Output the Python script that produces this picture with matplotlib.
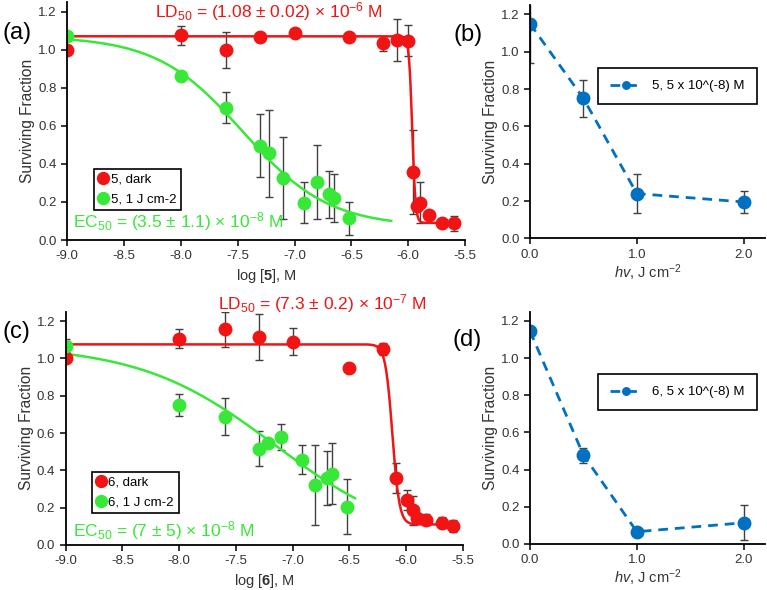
import numpy as np
import matplotlib.pyplot as plt

plt.rcParams['font.family'] = ['Liberation Sans', 'DejaVu Sans']
plt.rcParams['mathtext.fontset'] = 'custom'
plt.rcParams['mathtext.rm'] = 'Liberation Sans'
plt.rcParams['mathtext.it'] = 'Liberation Sans:italic'
plt.rcParams['mathtext.bf'] = 'Liberation Sans:bold'

RED = '#F01414'
GREEN = '#38E838'
BLUE = '#0070C0'
ERR = '#404040'
TXT = '#333333'

# ---- panel (a): compound 5
a_dark_x = [-9.0, -8.0, -7.6, -7.3, -7.0, -6.52, -6.22, -6.1, -6.0, -5.96, -5.92, -5.9, -5.82, -5.7, -5.6]
a_dark_y = [1.00, 1.075, 1.00, 1.064, 1.087, 1.064, 1.034, 1.052, 1.047, 0.356, 0.18, 0.197, 0.13, 0.087, 0.087]
a_dark_e = [0, 0.05, 0.095, 0, 0, 0, 0.04, 0.11, 0.08, 0.22, 0, 0.11, 0, 0, 0.04]
a_lit_x = [-9.0, -8.0, -7.6, -7.3, -7.22, -7.1, -6.92, -6.8, -6.7, -6.65, -6.52]
a_lit_y = [1.07, 0.861, 0.695, 0.495, 0.455, 0.325, 0.197, 0.304, 0.24, 0.22, 0.113]
a_lit_e = [0, 0, 0.08, 0.165, 0.23, 0.215, 0.11, 0.195, 0.125, 0.125, 0.085]
# fit parameters: top, bottom, log(LD50/EC50), hill slope, x range
a_dark_fit = (1.07, 0.09, -5.965, 30, -9.0, -5.6)
a_lit_fit = (1.07, 0.07, -7.456, 1.15, -9.0, -6.15)

# ---- panel (c): compound 6
c_dark_x = [-9.0, -8.0, -7.6, -7.3, -7.0, -6.5, -6.2, -6.09, -5.99, -5.94, -5.9, -5.82, -5.68, -5.59]
c_dark_y = [1.00, 1.105, 1.155, 1.114, 1.09, 0.948, 1.05, 0.359, 0.242, 0.185, 0.147, 0.135, 0.12, 0.102]
c_dark_e = [0, 0.05, 0.095, 0.125, 0.07, 0, 0.03, 0.08, 0.055, 0.08, 0, 0.03, 0.03, 0.03]
c_lit_x = [-9.0, -8.0, -7.6, -7.3, -7.22, -7.1, -6.92, -6.8, -6.7, -6.65, -6.52]
c_lit_y = [1.068, 0.749, 0.688, 0.516, 0.544, 0.578, 0.458, 0.323, 0.359, 0.383, 0.206]
c_lit_e = [0.035, 0.06, 0.098, 0.095, 0, 0.068, 0.077, 0.215, 0.145, 0.165, 0.145]
c_dark_fit = (1.075, 0.11, -6.12, 14, -9.0, -5.6)
c_lit_fit = (1.07, 0.0, -7.155, 0.73, -9.0, -6.45)

# ---- panels (b), (d): light dose
dose = [0.0, 0.5, 1.0, 2.0]
b_y = [1.15, 0.75, 0.24, 0.195]
b_e = [0.21, 0.10, 0.105, 0.06]
d_y = [1.145, 0.478, 0.066, 0.114]
d_e = [0.0, 0.04, 0.0, 0.095]


def hill(p):
    top, bot, logc, h, x0, x1 = p
    x = np.linspace(x0, x1, 600)
    return x, bot + (top - bot) / (1 + 10 ** ((x - logc) * h))


def style(ax):
    for s in ['top', 'right']:
        ax.spines[s].set_visible(False)
    for s in ['left', 'bottom']:
        ax.spines[s].set_linewidth(1.3)
        ax.spines[s].set_zorder(5)
    ax.tick_params(direction='out', length=4, width=1.1, labelsize=9.5, labelcolor=TXT)
    ax.set_ylim(0, 1.25)
    ax.set_yticks(np.arange(0, 1.21, 0.2))
    ax.set_yticklabels([f'{v:.1f}' for v in np.arange(0, 1.21, 0.2)])
    ax.set_ylabel('Surviving Fraction', fontsize=11.2, color=TXT, labelpad=2)


def dose_panel(ax, x, y, e, label):
    ax.errorbar(x, y, yerr=e, fmt='none', ecolor=ERR, elinewidth=1, capsize=3, zorder=2)
    ax.plot(x, y, color=BLUE, ls=(0, (3.5, 2.5)), lw=2, marker='o', ms=9, zorder=3, label=label)
    style(ax)
    ax.set_xlim(0, 2.2)
    ax.set_xticks([0, 1, 2])
    ax.set_xticklabels(['0.0', '1.0', '2.0'])
    ax.set_xlabel('$hv$, J cm$^{-2}$', fontsize=10.5, color=TXT, labelpad=1)
    leg = ax.legend(loc='lower left', bbox_to_anchor=(0.29, 0.575), fontsize=9.5, frameon=True,
                    fancybox=False, framealpha=1, edgecolor='black', handlelength=2.4,
                    borderpad=0.9, borderaxespad=0, markerscale=0.6)
    leg.get_frame().set_linewidth(1.2)


def dose_response(ax, dx, dy, de, dfit, lx, ly, le, lfit, num):
    ax.errorbar(dx, dy, yerr=de, fmt='none', ecolor=ERR, elinewidth=1, capsize=3, zorder=2)
    ax.errorbar(lx, ly, yerr=le, fmt='none', ecolor=ERR, elinewidth=1, capsize=3, zorder=2)
    ax.plot(*hill(dfit), color=RED, lw=1.8, zorder=3)
    ax.plot(*hill(lfit), color=GREEN, lw=1.8, zorder=3)
    ax.plot(dx, dy, 'o', color=RED, ms=9, zorder=4, label=f'{num}, dark')
    ax.plot(lx, ly, 'o', color=GREEN, ms=9, zorder=4, label=f'{num}, 1 J cm-2')
    style(ax)
    ax.set_xlim(-9.0, -5.5)
    ax.set_xticks(np.arange(-9.0, -5.49, 0.5))
    ax.set_xticklabels([f'{v:.1f}' for v in np.arange(-9.0, -5.49, 0.5)])
    ax.set_xlabel(r'log [$\mathbf{' + num + r'}$], M', fontsize=10.5, color=TXT, labelpad=3)


fig = plt.figure(figsize=(7.67, 5.9), dpi=100)
ax_a = fig.add_axes([0.0874, 0.5932, 0.519, 0.4034])
ax_b = fig.add_axes([0.691, 0.596, 0.3064, 0.3954])
ax_c = fig.add_axes([0.0857, 0.0763, 0.5176, 0.3954])
ax_d = fig.add_axes([0.691, 0.078, 0.3064, 0.394])

dose_response(ax_a, a_dark_x, a_dark_y, a_dark_e, a_dark_fit, a_lit_x, a_lit_y, a_lit_e, a_lit_fit, '5')
dose_response(ax_c, c_dark_x, c_dark_y, c_dark_e, c_dark_fit, c_lit_x, c_lit_y, c_lit_e, c_lit_fit, '6')

for ax, anchor in [(ax_a, (0.068, 0.126)), (ax_c, (0.066, 0.137))]:
    leg = ax.legend(loc='lower left', bbox_to_anchor=anchor, fontsize=9.5, frameon=True,
                    fancybox=False, framealpha=1, edgecolor='black', handlelength=0.6,
                    handletextpad=0.3, borderpad=0.35, labelspacing=0.55, borderaxespad=0,
                    markerscale=0.95)
    leg.get_frame().set_linewidth(1.2)

ax_a.text(-8.226, 1.2, 'LD$_{50}$ = (1.08 ± 0.02) × 10$^{-6}$ M', color=RED, fontsize=12.5,
          va='center', ha='left', clip_on=False)
ax_a.text(-8.95, 0.095, 'EC$_{50}$ = (3.5 ± 1.1) × 10$^{-8}$ M', color=GREEN, fontsize=12.5,
          va='center', ha='left')
ax_c.text(-7.654, 1.293, 'LD$_{50}$ = (7.3 ± 0.2) × 10$^{-7}$ M', color=RED, fontsize=12.5,
          va='center', ha='left', clip_on=False)
ax_c.text(-8.933, 0.077, 'EC$_{50}$ = (7 ± 5) × 10$^{-8}$ M', color=GREEN, fontsize=12.5,
          va='center', ha='left')

dose_panel(ax_b, dose, b_y, b_e, '5, 5 x 10^(-8) M')
dose_panel(ax_d, dose, d_y, d_e, '6, 5 x 10^(-8) M')

for x, y, t in [(0.003, 0.944, '(a)'), (0.591, 0.941, '(b)'), (0.003, 0.438, '(c)'), (0.590, 0.424, '(d)')]:
    fig.text(x, y, t, fontsize=17, va='center', ha='left', color='black')

fig.savefig('out.png', dpi=100)
